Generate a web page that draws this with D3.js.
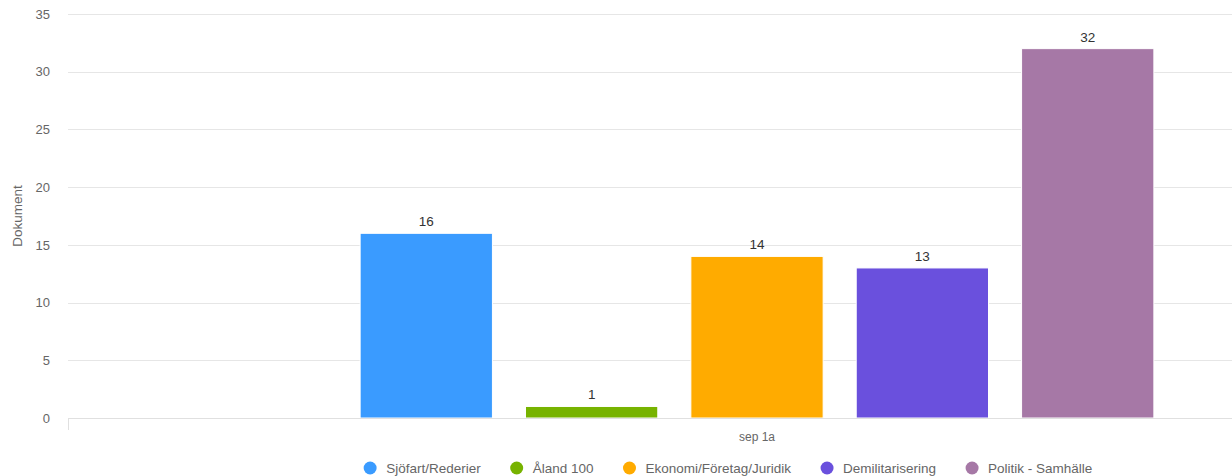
<!DOCTYPE html>
<html>
<head>
<meta charset="utf-8">
<script src="https://cdn.jsdelivr.net/npm/d3@7"></script>
<style>
  body { margin: 0; background: #fff; }
  text { font-family: "Liberation Sans", Arial, sans-serif; }
</style>
</head>
<body>
<div id="chart"></div>
<script>
// data
var categories = ["sep 1a"];
var seriesNames = ["Sjöfart/Rederier", "Åland 100", "Ekonomi/Företag/Juridik", "Demilitarisering", "Politik - Samhälle"];
var seriesValues = [16, 1, 14, 13, 32];
var seriesColors = ["#3a9bff", "#77b300", "#ffab00", "#6a50dd", "#a678a6"];
var yTicks = [0, 5, 10, 15, 20, 25, 30, 35];

var width = 1232;
var height = 476;
// the plot runs on past the right edge of the window (chart is cropped)
var margin = { top: 14, left: 68, bottom: 58, plotRight: 1446 };

var svg = d3
  .select("#chart")
  .append("svg")
  .attr("width", width)
  .attr("height", height);

var y = d3
  .scaleLinear()
  .domain([0, 35])
  .range([height - margin.bottom, margin.top]);

var x0 = d3
  .scaleBand()
  .domain(categories)
  .range([margin.left, margin.plotRight]);

// groupPadding 0.2 on each side of the category
var x1 = d3
  .scaleBand()
  .domain(seriesNames)
  .range([x0.bandwidth() * 0.2, x0.bandwidth() * 0.8])
  .paddingInner(0.2)
  .paddingOuter(0.1);

// grid lines
svg
  .append("g")
  .selectAll("line")
  .data(yTicks.filter(function(d) { return d > 0; }))
  .join("line")
  .attr("x1", margin.left)
  .attr("x2", width)
  .attr("y1", function(d) { return Math.round(y(d)) + 0.5; })
  .attr("y2", function(d) { return Math.round(y(d)) + 0.5; })
  .attr("stroke", "#e6e6e6");

// y axis labels
var yAxis = d3.axisLeft(y).tickValues(yTicks).tickSize(0).tickPadding(18);
svg
  .append("g")
  .attr("transform", "translate(" + margin.left + ",0)")
  .call(yAxis)
  .call(function(g) {
    g.select(".domain").remove();
    g.selectAll("text")
      .attr("fill", "#666")
      .style("font-size", "13px")
      .style("font-family", "'Liberation Sans', Arial, sans-serif");
  });

svg
  .append("text")
  .attr("transform", "translate(22," + (y(17.5)) + ") rotate(-90)")
  .attr("text-anchor", "middle")
  .attr("fill", "#666")
  .style("font-size", "13.5px")
  .text("Dokument");

// bars
var group = svg
  .append("g")
  .selectAll("g")
  .data(categories)
  .join("g")
  .attr("transform", function(d) { return "translate(" + x0(d) + ",0)"; });

group
  .selectAll("rect")
  .data(seriesNames.map(function(n, i) { return { name: n, value: seriesValues[i], color: seriesColors[i] }; }))
  .join("rect")
  .attr("x", function(d) { return x1(d.name); })
  .attr("width", x1.bandwidth())
  .attr("y", function(d) { return y(d.value); })
  .attr("height", function(d) { return y(0) - y(d.value); })
  .attr("fill", function(d) { return d.color; })
  .attr("stroke", "#fff")
  .attr("stroke-width", 1);

group
  .selectAll("text.label")
  .data(seriesNames.map(function(n, i) { return { name: n, value: seriesValues[i] }; }))
  .join("text")
  .attr("class", "label")
  .attr("x", function(d) { return x1(d.name) + x1.bandwidth() / 2; })
  .attr("y", function(d) { return y(d.value) - 7; })
  .attr("text-anchor", "middle")
  .attr("fill", "#333")
  .style("font-size", "13.5px")
  .text(function(d) { return d.value; });

// x axis
var xAxis = d3.axisBottom(x0).tickSize(0).tickPadding(14);
svg
  .append("g")
  .attr("transform", "translate(0," + (Math.round(y(0)) + 0.5) + ")")
  .call(xAxis)
  .call(function(g) {
    g.select(".domain").attr("stroke", "#e0e0e0").attr("d", "M" + margin.left + ",0H" + margin.plotRight);
    g.selectAll("text")
      .attr("fill", "#666")
      .style("font-size", "12px")
      .style("font-family", "'Liberation Sans', Arial, sans-serif");
  });

// category boundary tick at the left edge
svg
  .append("line")
  .attr("x1", margin.left + 0.5)
  .attr("x2", margin.left + 0.5)
  .attr("y1", y(0))
  .attr("y2", y(0) + 12)
  .attr("stroke", "#e0e0e0");

// legend
var legend = svg.append("g").attr("transform", "translate(0,468)");
var items = legend
  .selectAll("g")
  .data(seriesNames)
  .join("g");

items
  .append("circle")
  .attr("r", 6.5)
  .attr("fill", function(d, i) { return seriesColors[i]; });

items
  .append("text")
  .attr("x", 16)
  .attr("dy", "0.35em")
  .attr("fill", "#666")
  .style("font-size", "13.5px")
  .text(function(d) { return d; });

// symbol offset 16, then 36 from the end of one label to the next symbol
var widths = [];
items.each(function() {
  widths.push(this.querySelector("text").getComputedTextLength() + 16 + 36);
});
var total = d3.sum(widths) - 36 + 6.5;
var pos = 728 - total / 2 + 6.5;
items.attr("transform", function(d, i) {
  var t = "translate(" + pos + ",0)";
  pos += widths[i];
  return t;
});
</script>
</body>
</html>
